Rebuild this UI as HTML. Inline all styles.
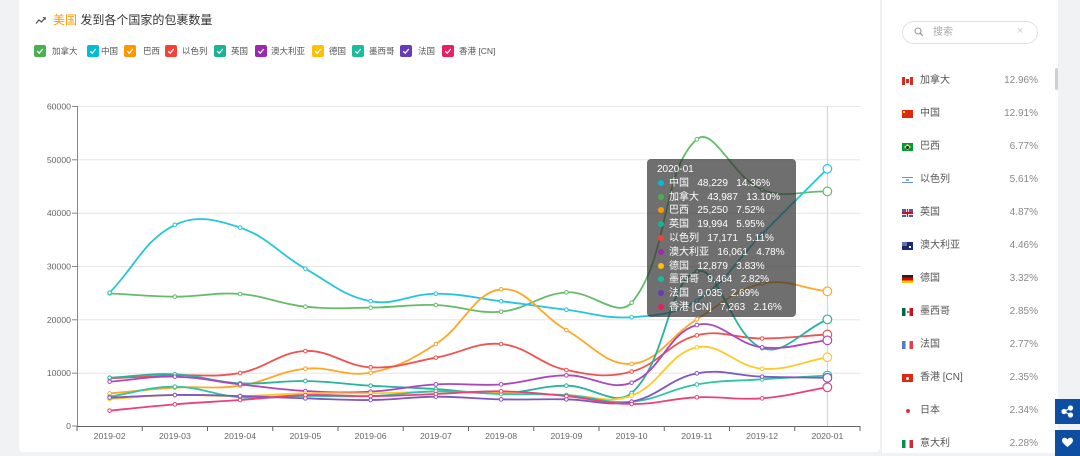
<!DOCTYPE html>
<html><head><meta charset="utf-8">
<style>
*{margin:0;padding:0;box-sizing:border-box}
html,body{width:1080px;height:456px;overflow:hidden;background:#f1f2f4;font-family:"Liberation Sans","Noto Sans CJK SC",sans-serif;position:relative}
.card{position:absolute;left:19px;top:-6px;width:861px;height:458px;background:#fff;border-radius:4px}
.side{position:absolute;left:881px;top:-6px;width:177px;height:459px;background:#fff;border-left:1px solid #eceef0}
.title{position:absolute;left:53px;top:12px;font-size:12px;line-height:16px;color:#333;white-space:nowrap}
.title b{font-weight:normal;color:#ff9800}
.cb{position:absolute;top:45px;width:12px;height:12px;border-radius:2px}
.cb svg{position:absolute;left:0;top:0}
.lt{position:absolute;top:45px;font-size:8.5px;line-height:12px;color:#555;white-space:nowrap}
.tip{position:absolute;left:647px;top:159px;width:149px;height:158px;background:rgba(50,50,50,0.7);border-radius:4px;padding:4px 0 0 10px;color:#fff;font-size:10px;line-height:13.8px;white-space:pre}
.tip i{display:inline-block;width:6px;height:6px;border-radius:50%;margin:0 5px 0 1px;vertical-align:0px}
.search{position:absolute;left:902px;top:21px;width:136px;height:23px;border:1px solid #e2e2e2;border-radius:12px}
.stext{position:absolute;left:933px;top:26px;font-size:10px;line-height:13px;color:#aaa}
.sx{position:absolute;left:1017px;top:25px;font-size:11px;line-height:13px;color:#ccc}
.row{position:absolute;left:902px;width:136px;height:14px}
.row .f{position:absolute;left:0;top:3px;width:11px;height:8px;overflow:hidden}
.row .n{position:absolute;left:18px;top:0;font-size:10px;line-height:14px;color:#555;white-space:nowrap}
.row .p{position:absolute;right:0;top:0;font-size:10px;line-height:14px;color:#888}
.sb{position:absolute;left:1055px;top:68px;width:3px;height:22px;background:#cfcfcf;border-radius:2px}
.btn{position:absolute;left:1055px;width:25px;background:#0d4ea3}
</style></head><body>
<div class="card"></div>
<div class="side"></div>

<svg style="position:absolute;left:0;top:0" width="1080" height="456">
<polyline points="36,23.5 39,20 41.5,22 45,18" fill="none" stroke="#555" stroke-width="1.3"/>
<polyline points="43,17.5 45.3,17.7 45.2,20" fill="none" stroke="#555" stroke-width="1"/>
</svg>
<div class="title"><b>美国</b> 发到各个国家的包裹数量</div>

<div id="legend"></div>

<svg id="chart" style="position:absolute;left:0;top:0" width="1080" height="456">
<g stroke="#e6e6e6" stroke-width="1">
<line x1="77" y1="106.5" x2="860" y2="106.5"/>
<line x1="77" y1="159.8" x2="860" y2="159.8"/>
<line x1="77" y1="213.2" x2="860" y2="213.2"/>
<line x1="77" y1="266.5" x2="860" y2="266.5"/>
<line x1="77" y1="319.8" x2="860" y2="319.8"/>
<line x1="77" y1="373.2" x2="860" y2="373.2"/>
</g>
<g stroke="#888" stroke-width="1">
<line x1="77.5" y1="106" x2="77.5" y2="426"/>
<line x1="72" y1="106.5" x2="77" y2="106.5"/>
<line x1="72" y1="159.8" x2="77" y2="159.8"/>
<line x1="72" y1="213.2" x2="77" y2="213.2"/>
<line x1="72" y1="266.5" x2="77" y2="266.5"/>
<line x1="72" y1="319.8" x2="77" y2="319.8"/>
<line x1="72" y1="373.2" x2="77" y2="373.2"/>
<line x1="72" y1="426" x2="77" y2="426"/>
</g>
<line x1="827.4" y1="106" x2="827.4" y2="426" stroke="#cfcfcf" stroke-width="1"/>
<g font-family="Liberation Sans, sans-serif" font-size="8.7" fill="#666" text-anchor="end">
<text x="71" y="109.5">60000</text>
<text x="71" y="162.8">50000</text>
<text x="71" y="216.2">40000</text>
<text x="71" y="269.5">30000</text>
<text x="71" y="322.8">20000</text>
<text x="71" y="376.2">10000</text>
<text x="71" y="429">0</text>
</g>
<g id="xticks" stroke="#666" stroke-width="1"></g>
<line x1="77" y1="426.5" x2="860" y2="426.5" stroke="#666" stroke-width="1"/>
<g font-family="Liberation Sans, sans-serif" font-size="8.7" fill="#666" text-anchor="middle">
<text x="109.6" y="439">2019-02</text>
<text x="174.9" y="439">2019-03</text>
<text x="240.1" y="439">2019-04</text>
<text x="305.4" y="439">2019-05</text>
<text x="370.6" y="439">2019-06</text>
<text x="435.9" y="439">2019-07</text>
<text x="501.1" y="439">2019-08</text>
<text x="566.4" y="439">2019-09</text>
<text x="631.6" y="439">2019-10</text>
<text x="696.9" y="439">2019-11</text>
<text x="762.1" y="439">2019-12</text>
<text x="827.4" y="439">2020-01</text>
</g>
<g id="lines"></g>
</svg>

<div class="tip">2020-01
<i style="background:#00bcd4"></i>中国   48,229   14.36%
<i style="background:#4caf50"></i>加拿大   43,987   13.10%
<i style="background:#ff9800"></i>巴西   25,250   7.52%
<i style="background:#1ab394"></i>英国   19,994   5.95%
<i style="background:#f44336"></i>以色列   17,171   5.11%
<i style="background:#9c27b0"></i>澳大利亚   16,061   4.78%
<i style="background:#ffc107"></i>德国   12,879   3.83%
<i style="background:#1abc9c"></i>墨西哥   9,464   2.82%
<i style="background:#673ab7"></i>法国   9,035   2.69%
<i style="background:#e91e63"></i>香港 [CN]   7,263   2.16%</div>

<div class="search"></div>
<svg style="position:absolute;left:914px;top:27px" width="10" height="10"><circle cx="4" cy="4" r="3" fill="none" stroke="#999" stroke-width="1.1"/><line x1="6.2" y1="6.2" x2="8.8" y2="8.8" stroke="#999" stroke-width="1.2"/></svg>
<div class="stext">搜索</div>
<div class="sx">×</div>
<div class="sb"></div>

<div class="row" style="top:74px"><div class="f" style="background:linear-gradient(90deg,#d52b1e 0 3px,#fff 3px 8px,#d52b1e 8px)"><div style="position:absolute;left:4px;top:2px;width:3px;height:4px;background:#d52b1e"></div></div><span class="n">加拿大</span><span class="p">12.96%</span></div>
<div class="row" style="top:107px"><div class="f" style="background:#de2910"><div style="position:absolute;left:1px;top:1px;width:2px;height:2px;background:#ffde00"></div></div><span class="n">中国</span><span class="p">12.91%</span></div>
<div class="row" style="top:140px"><div class="f" style="background:#009c3b"><div style="position:absolute;left:2px;top:1px;width:7px;height:6px;background:#ffdf00;clip-path:polygon(50% 0,100% 50%,50% 100%,0 50%)"></div><div style="position:absolute;left:4px;top:2.5px;width:3px;height:3px;border-radius:50%;background:#002776"></div></div><span class="n">巴西</span><span class="p">6.77%</span></div>
<div class="row" style="top:173px"><div class="f" style="background:linear-gradient(#fff 0 1px,#6b8fd6 1px 2px,#fff 2px 6px,#6b8fd6 6px 7px,#fff 7px)"><div style="position:absolute;left:4px;top:3px;width:3px;height:2px;background:#8fa9e0"></div></div><span class="n">以色列</span><span class="p">5.61%</span></div>
<div class="row" style="top:206px"><div class="f" style="background:#4a5fa0"><div style="position:absolute;left:4px;top:0;width:3px;height:8px;background:#f2e0e4"></div><div style="position:absolute;left:0;top:2.5px;width:11px;height:3px;background:#f2e0e4"></div><div style="position:absolute;left:4.8px;top:0;width:1.4px;height:8px;background:#c8102e"></div><div style="position:absolute;left:0;top:3.3px;width:11px;height:1.4px;background:#c8102e"></div></div><span class="n">英国</span><span class="p">4.87%</span></div>
<div class="row" style="top:239px"><div class="f" style="background:#1a2a7a"><div style="position:absolute;left:0;top:0;width:5px;height:4px;background:#6a6fa8"></div><div style="position:absolute;left:7px;top:4px;width:2px;height:2px;background:#fff"></div></div><span class="n">澳大利亚</span><span class="p">4.46%</span></div>
<div class="row" style="top:272px"><div class="f" style="background:linear-gradient(#222 0 33%,#dd0000 33% 66%,#ffce00 66%)"></div><span class="n">德国</span><span class="p">3.32%</span></div>
<div class="row" style="top:305px"><div class="f" style="background:linear-gradient(90deg,#006847 0 3.7px,#fff 3.7px 7.3px,#ce1126 7.3px)"><div style="position:absolute;left:4.5px;top:3px;width:2px;height:2px;background:#9a7a3a"></div></div><span class="n">墨西哥</span><span class="p">2.85%</span></div>
<div class="row" style="top:338px"><div class="f" style="background:linear-gradient(90deg,#5577cc 0 3.7px,#fff 3.7px 7.3px,#e04050 7.3px)"></div><span class="n">法国</span><span class="p">2.77%</span></div>
<div class="row" style="top:371px"><div class="f" style="background:#de2910"><div style="position:absolute;left:4px;top:2.5px;width:3px;height:3px;border-radius:50%;background:#fff"></div></div><span class="n">香港 [CN]</span><span class="p">2.35%</span></div>
<div class="row" style="top:404px"><div class="f" style="background:#fff"><div style="position:absolute;left:3.5px;top:2px;width:4px;height:4px;border-radius:50%;background:#e03030"></div></div><span class="n">日本</span><span class="p">2.34%</span></div>
<div class="row" style="top:437px"><div class="f" style="background:linear-gradient(90deg,#009246 0 3.7px,#fff 3.7px 7.3px,#ce2b37 7.3px)"></div><span class="n">意大利</span><span class="p">2.28%</span></div>

<div class="btn" style="top:399px;height:25px"><svg width="25" height="25"><g fill="#fff" stroke="#fff" stroke-width="1.2"><line x1="9" y1="12.5" x2="15.5" y2="9"/><line x1="9" y1="12.5" x2="15.5" y2="16"/><circle cx="9" cy="12.5" r="2"/><circle cx="15.5" cy="9" r="2"/><circle cx="15.5" cy="16" r="2"/></g></svg></div>
<div class="btn" style="top:430px;height:26px"><svg width="25" height="26"><path d="M12.5 17 C8 13.5 7 12 7 10.5 C7 8.8 8.3 7.8 9.7 7.8 C11 7.8 12 8.6 12.5 9.6 C13 8.6 14 7.8 15.3 7.8 C16.7 7.8 18 8.8 18 10.5 C18 12 17 13.5 12.5 17 Z" fill="#fff"/></svg></div>

<script>
(function(){
var ns="http://www.w3.org/2000/svg";
var legend=[["加拿大","#4caf50",34,52],["中国","#00bcd4",87,101],["巴西","#ff9800",124,143],["以色列","#f44336",165,182],["英国","#1ab394",214,231],["澳大利亚","#9c27b0",255,271],["德国","#ffc107",312,329],["墨西哥","#1abc9c",352,369],["法国","#673ab7",400,418],["香港 [CN]","#e91e63",442,459]];
var lg=document.getElementById("legend"),h="";
legend.forEach(function(l){
h+='<div class="cb" style="left:'+l[2]+'px;background:'+l[1]+'"><svg width="12" height="12"><polyline points="3.2,6.2 5.2,8.2 8.8,4" fill="none" stroke="#fff" stroke-width="1.3"/></svg></div><div class="lt" style="left:'+l[3]+'px">'+l[0]+'</div>';
});
lg.innerHTML=h;
var xt=document.getElementById("xticks");
for(var k=0;k<=12;k++){var x=77+65.25*k;var ln=document.createElementNS(ns,"line");ln.setAttribute("x1",x);ln.setAttribute("x2",x);ln.setAttribute("y1",426);ln.setAttribute("y2",431);xt.appendChild(ln);}
var S=[
["#66bb6a",[24870,24250,24750,22370,22190,22690,21440,25060,23130,53750,44300,43987]],
["#26c6da",[25000,37700,37200,29500,23400,24800,23400,21800,20400,23500,36000,48229]],
["#ffa726",[6100,7200,7560,10750,10000,15370,25630,18000,11650,20000,26700,25250]],
["#ef5350",[8940,9500,9940,14060,11000,12810,15370,10500,10200,17000,16400,17171]],
["#26b3a0",[9060,9690,8000,8440,7560,6940,6130,7560,6200,29000,14600,19994]],
["#ab47bc",[8310,9250,7810,6560,6440,7810,7810,9500,8130,18940,14750,16061]],
["#ffca28",[5060,5810,5620,6130,6130,6440,6300,5810,5700,14750,10750,12879]],
["#2ec4a6",[5500,7370,5380,5620,5600,6500,6000,5800,4550,7800,8750,9464]],
["#7e57c2",[5310,5810,5620,5190,4870,5500,5000,5000,4550,9870,9250,9035]],
["#ec407a",[2880,4060,4870,5800,5600,6000,6500,5600,4120,5380,5190,7263]]
];
var g=document.getElementById("lines");
var sm=0.4;
S.forEach(function(s){
var p=s[1].map(function(v,i){return [77+65.25*(i+0.5),426-v*320/60000];});
var n=p.length,cin=[],cout=[];
for(var i=0;i<n;i++){
var pr=p[Math.max(i-1,0)],nx=p[Math.min(i+1,n-1)],c=p[i];
var vx=nx[0]-pr[0],vy=nx[1]-pr[1];
var d0=Math.hypot(c[0]-pr[0],c[1]-pr[1]),d1=Math.hypot(nx[0]-c[0],nx[1]-c[1]);
var r=(d0+d1)>0?d1/(d0+d1):0.5;
cin.push([c[0]-vx*sm*(1-r),c[1]-vy*sm*(1-r)]);
cout.push([c[0]+vx*sm*r,c[1]+vy*sm*r]);
}
var d="M"+p[0][0].toFixed(2)+","+p[0][1].toFixed(2);
for(var i=1;i<n;i++){d+=" C"+cout[i-1][0].toFixed(2)+","+cout[i-1][1].toFixed(2)+" "+cin[i][0].toFixed(2)+","+cin[i][1].toFixed(2)+" "+p[i][0].toFixed(2)+","+p[i][1].toFixed(2);}
var pa=document.createElementNS(ns,"path");
pa.setAttribute("d",d);pa.setAttribute("fill","none");pa.setAttribute("stroke",s[0]);pa.setAttribute("stroke-width","1.8");
g.appendChild(pa);
p.forEach(function(q,i){
var ci=document.createElementNS(ns,"circle");
ci.setAttribute("cx",q[0]);ci.setAttribute("cy",q[1]);
ci.setAttribute("r",i==n-1?4.3:1.8);
ci.setAttribute("fill","#fff");ci.setAttribute("stroke",s[0]);ci.setAttribute("stroke-width",i==n-1?1.2:1);
g.appendChild(ci);
});
});
})();
</script>
</body></html>
